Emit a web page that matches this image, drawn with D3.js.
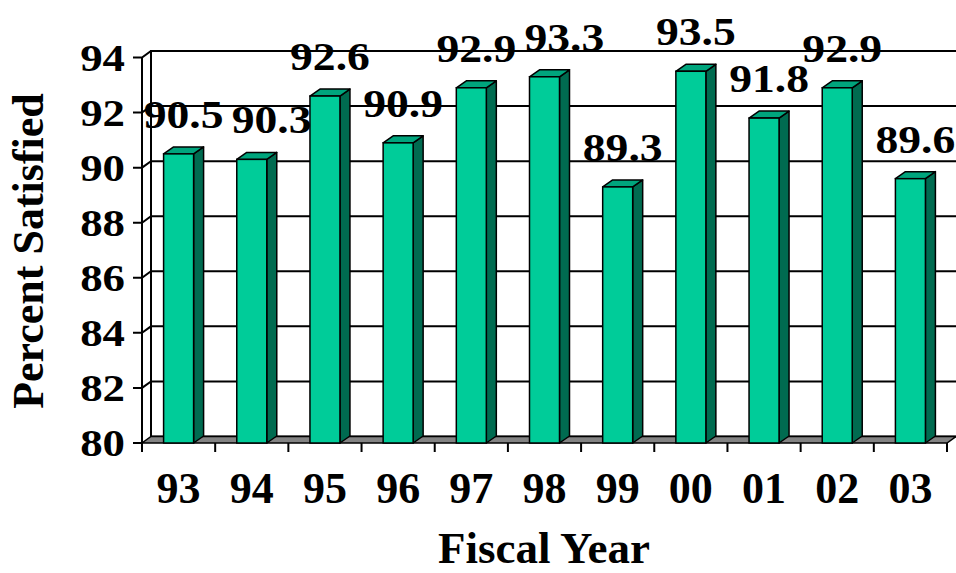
<!DOCTYPE html>
<html>
<head>
<meta charset="utf-8">
<script src="https://cdn.jsdelivr.net/npm/d3@7"></script>
<style>
  body { margin: 0; background: #fff; }
  text { font-family: "Liberation Serif", "Times New Roman", serif; font-weight: bold; fill: #000; }
</style>
</head>
<body>
<svg id="chart" width="956" height="573"></svg>
<script>
// data
const years = ["93", "94", "95", "96", "97", "98", "99", "00", "01", "02", "03"];
const satisfied = [90.5, 90.3, 92.6, 90.9, 92.9, 93.3, 89.3, 93.5, 91.8, 92.9, 89.6];
const yTicks = [80, 82, 84, 86, 88, 90, 92, 94];

const svg = d3.select("#chart");

// front plane of the 3d box
const left = 142, right = 947, bottom = 443;
const wall = { dx: 9, dy: -6.5 };   // depth of the back wall
const box = { dx: 10, dy: -7 };     // depth of each bar
const barW = 30;

const xScale = d3.scaleBand().domain(years).range([left, right]);
const yScale = d3.scaleLinear().domain([80, 94]).range([bottom, 57.5]);

const grid = svg.append("g");

// back wall
grid.append("rect")
    .attr("x", left + wall.dx)
    .attr("y", yScale(94) + wall.dy)
    .attr("width", 956 - left - wall.dx + 2)
    .attr("height", yScale(80) - yScale(94))
    .attr("fill", "#fff")
    .attr("stroke", "#000")
    .attr("stroke-width", 2);

// gray floor
grid.append("polygon")
    .attr("points", [
        [left, bottom], [right, bottom],
        [right + wall.dx, bottom + wall.dy], [left + wall.dx, bottom + wall.dy]
    ].join(" "))
    .attr("fill", "#838383")
    .attr("stroke", "#000")
    .attr("stroke-width", 1.5);

// gridlines: short diagonal on the side wall, then across the back wall
grid.selectAll(".grid")
    .data(yTicks.filter(t => t > 80))
    .enter()
    .append("polyline")
    .attr("class", "grid")
    .attr("points", t => [
        [left - 9, yScale(t)], [left, yScale(t)],
        [left + wall.dx, yScale(t) + wall.dy], [958, yScale(t) + wall.dy]
    ].join(" "))
    .attr("fill", "none")
    .attr("stroke", "#000")
    .attr("stroke-width", 2);

// left back edge and front axis line
grid.append("line")
    .attr("x1", left + wall.dx).attr("x2", left + wall.dx)
    .attr("y1", yScale(94) + wall.dy).attr("y2", bottom + wall.dy)
    .attr("stroke", "#000").attr("stroke-width", 1.5);
grid.append("line")
    .attr("x1", left).attr("x2", left)
    .attr("y1", yScale(94)).attr("y2", bottom + 9)
    .attr("stroke", "#000").attr("stroke-width", 2);
grid.append("line")
    .attr("x1", left - 9).attr("x2", left)
    .attr("y1", bottom).attr("y2", bottom)
    .attr("stroke", "#000").attr("stroke-width", 2);

// x ticks at the category edges
grid.selectAll(".xtick")
    .data(years)
    .enter()
    .append("line")
    .attr("class", "xtick")
    .attr("x1", d => xScale(d) + xScale.bandwidth())
    .attr("x2", d => xScale(d) + xScale.bandwidth())
    .attr("y1", bottom)
    .attr("y2", bottom + 9)
    .attr("stroke", "#000")
    .attr("stroke-width", 2);

// bars: front, top, side
const barData = years.map((y, i) => ({ year: y, value: satisfied[i] }));
const bars = svg.selectAll(".bar")
    .data(barData)
    .enter()
    .append("g")
    .attr("class", "bar");

const bx = d => xScale(d.year) + xScale.bandwidth() / 2 - barW / 2;

bars.append("polygon")
    .attr("points", d => {
        const x = bx(d) + barW, y = yScale(d.value);
        return [[x, y], [x + box.dx, y + box.dy], [x + box.dx, bottom + box.dy], [x, bottom]].join(" ");
    })
    .attr("fill", "#006b50")
    .attr("stroke", "#000")
    .attr("stroke-width", 1.5)
    .attr("stroke-linejoin", "round");

bars.append("polygon")
    .attr("points", d => {
        const x = bx(d), y = yScale(d.value);
        return [[x, y], [x + box.dx, y + box.dy], [x + barW + box.dx, y + box.dy], [x + barW, y]].join(" ");
    })
    .attr("fill", "#00a57d")
    .attr("stroke", "#000")
    .attr("stroke-width", 1.5)
    .attr("stroke-linejoin", "round");

bars.append("rect")
    .attr("x", bx)
    .attr("y", d => yScale(d.value))
    .attr("width", barW)
    .attr("height", d => bottom - yScale(d.value))
    .attr("fill", "#00cc99")
    .attr("stroke", "#000")
    .attr("stroke-width", 1.5);

// value labels: above each bar, pushed right when they'd hit the previous one
const labW = 80, labH = 29;
let prev = null;
barData.forEach(d => {
    d.lx = xScale(d.year) + xScale.bandwidth() / 2 + 5;
    d.ly = yScale(d.value) - 26;
    if (prev) {
        const overlapX = (prev.lx + labW / 2) - (d.lx - labW / 2);
        const overlapY = Math.abs(prev.ly - d.ly) < labH;
        if (overlapX > 0 && overlapY) d.lx += overlapX + 8;
    }
    prev = d;
});

svg.selectAll(".vlab")
    .data(barData)
    .enter()
    .append("text")
    .attr("class", "vlab")
    .attr("transform", d => `translate(${d.lx},${d.ly}) scale(1.14,1)`)
    .attr("text-anchor", "middle")
    .style("font-size", "40px")
    .text(d => d.value.toFixed(1));

// y tick labels
svg.selectAll(".ylab")
    .data(yTicks)
    .enter()
    .append("text")
    .attr("class", "ylab")
    .attr("transform", t => `translate(125,${yScale(t) + 13}) scale(1.18,1)`)
    .attr("text-anchor", "end")
    .style("font-size", "38px")
    .text(t => t);

// x tick labels
svg.selectAll(".xlab")
    .data(years)
    .enter()
    .append("text")
    .attr("class", "xlab")
    .attr("x", d => xScale(d) + xScale.bandwidth() / 2)
    .attr("y", 503)
    .attr("text-anchor", "middle")
    .style("font-size", "44px")
    .text(d => d);

// axis titles
svg.append("text")
    .attr("x", 544)
    .attr("y", 563)
    .attr("text-anchor", "middle")
    .style("font-size", "45px")
    .text("Fiscal Year");

svg.append("text")
    .attr("transform", "translate(43,251) rotate(-90)")
    .attr("text-anchor", "middle")
    .style("font-size", "44px")
    .text("Percent Satisfied");
</script>
</body>
</html>
